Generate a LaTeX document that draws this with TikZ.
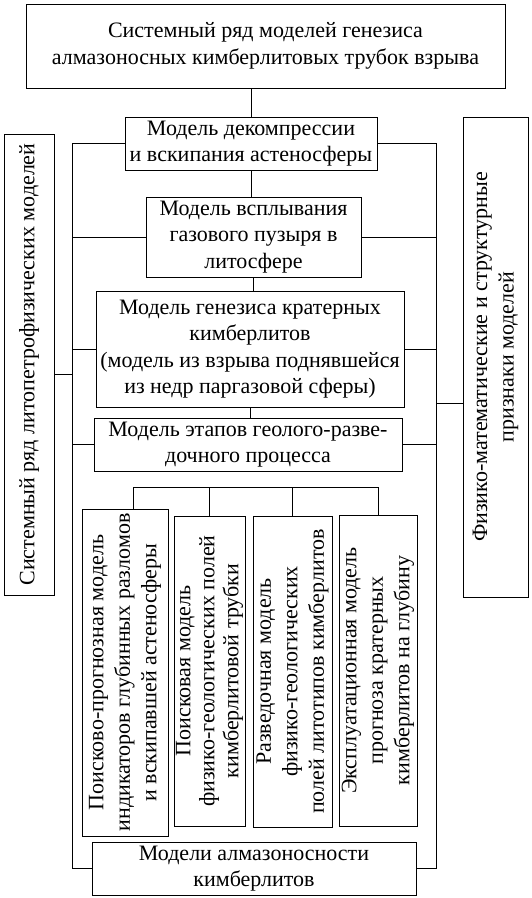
\documentclass[tikz,border=0pt]{standalone}
\usepackage{fontspec}
\setmainfont{Liberation Serif}
\begin{document}
\begin{tikzpicture}[x=1pt,y=-1pt,line width=0.9pt,
  box/.style={draw,align=center,inner sep=0.5pt,font=\fontsize{22}{26.5}\selectfont},
  vbox/.style={box,rotate=90}]
\useasboundingbox (0,0) rectangle (532,898);

\node[box,minimum width=479pt,minimum height=84pt] (top) at (265.5,46)
  {Системный ряд моделей генезиса\\алмазоносных кимберлитовых трубок взрыва};
\node[box,minimum width=252pt,minimum height=53pt] (decomp) at (251,143.5)
  {Модель декомпрессии\\и вскипания астеносферы};
\node[box,minimum width=215pt,minimum height=80pt] (bubble) at (253.5,237)
  {Модель всплывания\\газового пузыря в\\литосфере};
\node[box,minimum width=308pt,minimum height=116pt] (crater) at (250,349)
  {Модель генезиса кратерных\\кимберлитов\\(модель из взрыва поднявшейся\\из недр паргазовой сферы)};
\node[box,minimum width=308pt,minimum height=53pt] (stages) at (248,444.5)
  {Модель этапов геолого-разве-\\дочного процесса};
\node[box,minimum width=324pt,minimum height=53pt] (alm) at (254,868.5)
  {Модели алмазоносности\\кимберлитов};

\node[vbox,minimum width=327pt,minimum height=86pt] (sf) at (125,672.5)
  {Поисково-прогнозная модель\\индикаторов глубинных разломов\\и вскипавшей астеносферы};
\node[vbox,minimum width=310pt,minimum height=71pt,font=\fontsize{22}{24}\selectfont] (srch) at (209.5,671)
  {Поисковая модель\\физико-геологических полей\\кимберлитовой трубки};
\node[vbox,minimum width=311pt,minimum height=79pt] (expr) at (292.5,671.5)
  {Разведочная модель\\физико-геологических\\полей литотипов кимберлитов};
\node[vbox,minimum width=311pt,minimum height=78pt] (expl) at (378,670.5)
  {Эксплуатационная модель\\прогноза кратерных\\кимберлитов на глубину};

\node[vbox,minimum width=461pt,minimum height=50pt] (litho) at (29,364.5)
  {Системный ряд литопетрофизических моделей};
\node[vbox,minimum width=480pt,minimum height=65pt] (phys) at (495.5,357)
  {Физико-математические и структурные\\признаки моделей};

\coordinate (lx) at (72,0);
\coordinate (rx) at (436,0);
\coordinate (bus) at (0,487);

\draw (decomp.north) -- (decomp.north |- top.south);
\draw (decomp.south) -- (decomp.south |- bubble.north);
\draw (bubble.south) -- (bubble.south |- crater.north);
\draw (crater.south) -- (crater.south |- stages.north);

\draw (decomp.west) -- (decomp.west -| lx) -- (lx |- alm.west) -- (alm.west);
\draw (decomp.east) -- (decomp.east -| rx) -- (rx |- alm.east) -- (alm.east);
\foreach \n in {bubble,crater,stages}
  \draw (\n.west) -- (\n.west -| lx) (\n.east) -- (\n.east -| rx);
\draw ([yshift=-10pt]litho.south) -- ([yshift=-10pt]litho.south -| lx);
\draw ([yshift=-46pt]phys.north) -- ([yshift=-46pt]phys.north -| rx);

\draw ([xshift=8pt]sf.east) -- ([xshift=8pt]sf.east |- bus) -- (expl.east |- bus) -- (expl.east);
\foreach \n in {srch,expr}
  \draw (\n.east) -- (\n.east |- bus);
\end{tikzpicture}
\end{document}
